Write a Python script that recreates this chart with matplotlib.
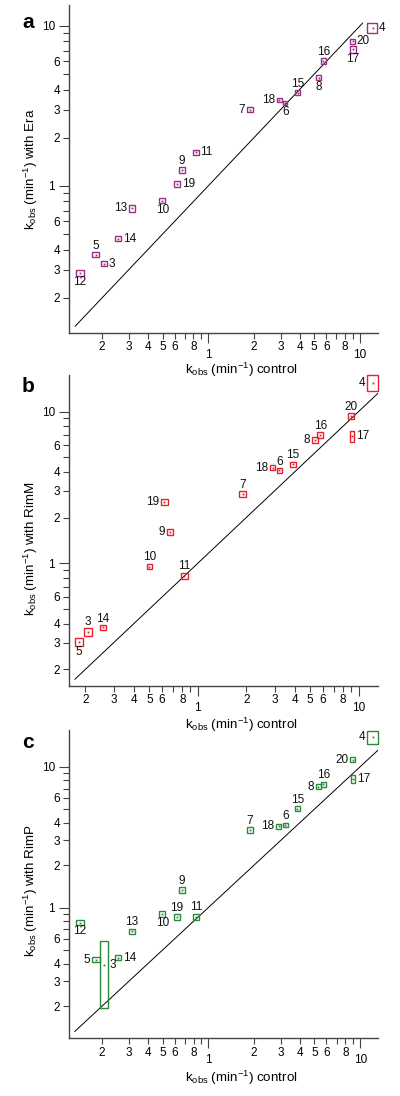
import matplotlib
matplotlib.use('Agg')
import matplotlib.pyplot as plt
from matplotlib.patches import Rectangle
from matplotlib.ticker import LogLocator, FuncFormatter
import numpy as np

plt.rcParams['font.family'] = ['Liberation Sans', 'DejaVu Sans']
plt.rcParams['mathtext.default'] = 'regular'

# --- Panel a: with Era ---
ids_a = [4, 20, 17, 16, 8, 15, 18, 6, 7, 11, 9, 19, 10, 13, 14, 5, 3, 12]
ctrl_a = [12.1, 8.95, 9.0, 5.73, 5.37, 3.88, 2.94, 3.22, 1.88, 0.83, 0.671, 0.622, 0.499, 0.316, 0.255, 0.182, 0.206, 0.143]
era_a = [9.7, 8.0, 7.15, 6.04, 4.75, 3.83, 3.45, 3.30, 3.0, 1.62, 1.26, 1.03, 0.81, 0.726, 0.469, 0.372, 0.327, 0.286]
ctrl_err_a = [0.95, 0.35, 0.35, 0.22, 0.2, 0.15, 0.11, 0.11, 0.09, 0.038, 0.03, 0.03, 0.022, 0.015, 0.012, 0.01, 0.009, 0.008]
era_err_a = [0.7, 0.3, 0.35, 0.22, 0.18, 0.12, 0.11, 0.11, 0.11, 0.06, 0.05, 0.04, 0.033, 0.035, 0.018, 0.014, 0.013, 0.011]

# --- Panel b: with RimM ---
ids_b = [4, 20, 17, 16, 8, 15, 6, 18, 7, 19, 9, 10, 11, 14, 3, 5]
ctrl_b = [12.3, 8.96, 9.08, 5.77, 5.35, 3.90, 3.22, 2.93, 1.90, 0.62, 0.67, 0.50, 0.826, 0.256, 0.207, 0.182]
rimm_b = [15.5, 9.35, 6.87, 6.98, 6.50, 4.49, 4.10, 4.27, 2.86, 2.55, 1.60, 0.95, 0.825, 0.378, 0.351, 0.304]
ctrl_err_b = [0.95, 0.4, 0.3, 0.25, 0.22, 0.15, 0.12, 0.11, 0.1, 0.033, 0.03, 0.02, 0.04, 0.011, 0.012, 0.011]
rimm_err_b = [1.85, 0.4, 0.6, 0.32, 0.28, 0.17, 0.15, 0.15, 0.13, 0.12, 0.07, 0.04, 0.04, 0.014, 0.021, 0.018]

# --- Panel c: with RimP ---
ids_c = [4, 20, 17, 16, 8, 15, 6, 18, 7, 9, 19, 11, 10, 13, 12, 5, 14, 3]
ctrl_c = [12.1, 8.9, 9.0, 5.73, 5.31, 3.86, 3.22, 2.91, 1.88, 0.671, 0.622, 0.83, 0.497, 0.313, 0.143, 0.182, 0.255, 0.206]
rimp_c = [16.3, 11.2, 8.18, 7.5, 7.21, 5.04, 3.86, 3.78, 3.56, 1.33, 0.855, 0.863, 0.902, 0.68, 0.783, 0.428, 0.442, 0.389]
ctrl_err_c = [0.95, 0.35, 0.3, 0.25, 0.22, 0.15, 0.12, 0.11, 0.09, 0.03, 0.03, 0.04, 0.02, 0.014, 0.009, 0.011, 0.012, 0.012]
rimp_err_c = [1.75, 0.45, 0.5, 0.3, 0.28, 0.2, 0.15, 0.14, 0.15, 0.06, 0.04, 0.04, 0.04, 0.03, 0.03, 0.018, 0.015, 0.194]

# label side for each point: r=right, l=left, a=above, b=below
side_a = ['r', 'r', 'b', 'a', 'b', 'a', 'l', 'b', 'l', 'r', 'a', 'r', 'b', 'l', 'r', 'a', 'r', 'b']
side_b = ['l', 'a', 'r', 'a', 'l', 'a', 'a', 'l', 'a', 'l', 'l', 'a', 'a', 'a', 'a', 'b']
side_c = ['l', 'l', 'r', 'a', 'l', 'a', 'a', 'l', 'a', 'a', 'a', 'a', 'b', 'a', 'b', 'l', 'r', 'r']

PURPLE = '#9c2f80'
RED = '#e6222e'
GREEN = '#2b8a3c'
AXIS_COLOR = '#444444'
FS = 8.5


def make_fmt(show):
    def fmt(v, pos):
        e = np.floor(np.log10(v) + 1e-9)
        d = int(round(v / 10 ** e))
        if d == 1:
            return f'{v:g}'
        return str(d) if d in show else ''
    return FuncFormatter(fmt)


def style_axes(ax, xlim, ylim):
    ax.set_facecolor('none')
    ax.set_xscale('log')
    ax.set_yscale('log')
    ax.set_xlim(xlim)
    ax.set_ylim(ylim)
    for s in ['top', 'right']:
        ax.spines[s].set_visible(False)
    for s in ['left', 'bottom']:
        ax.spines[s].set_linewidth(1.0)
        ax.spines[s].set_color(AXIS_COLOR)
    for axis in [ax.xaxis, ax.yaxis]:
        axis.set_major_locator(LogLocator(base=10, numticks=20))
        axis.set_minor_locator(LogLocator(base=10, subs=np.arange(2, 10), numticks=20))
    ax.xaxis.set_major_formatter(make_fmt((2, 3, 4, 5, 6, 8)))
    ax.xaxis.set_minor_formatter(make_fmt((2, 3, 4, 5, 6, 8)))
    ax.yaxis.set_major_formatter(make_fmt((2, 3, 4, 6)))
    ax.yaxis.set_minor_formatter(make_fmt((2, 3, 4, 6)))
    ax.tick_params(axis='x', which='major', length=7.5, width=0.8, pad=4.0, labelsize=FS, color=AXIS_COLOR)
    ax.tick_params(axis='x', which='minor', length=4.3, width=0.8, pad=1.8, labelsize=FS, color=AXIS_COLOR)
    ax.tick_params(axis='y', which='major', length=7.2, width=0.8, pad=3.0, labelsize=FS, color=AXIS_COLOR)
    ax.tick_params(axis='y', which='minor', length=4.0, width=0.8, pad=2.6, labelsize=FS, color=AXIS_COLOR)


def draw_points(ax, ids, x, y, xerr, yerr, sides, color):
    for i in range(len(ids)):
        ax.add_patch(Rectangle((x[i] - xerr[i], y[i] - yerr[i]), 2 * xerr[i], 2 * yerr[i],
                               fill=False, ec=color, lw=1.0, clip_on=False, zorder=3))
    ax.plot(x, y, ls='none', marker='s', ms=1.3, mew=0, color=color, zorder=4, clip_on=False)
    for i in range(len(ids)):
        s = sides[i]
        if s == 'r':
            xy, off, ha, va = (x[i] + xerr[i], y[i]), (1.2, 0), 'left', 'center'
        elif s == 'l':
            xy, off, ha, va = (x[i] - xerr[i], y[i]), (-1.2, 0), 'right', 'center'
        elif s == 'a':
            xy, off, ha, va = (x[i], y[i] + yerr[i]), (0, 0.3), 'center', 'bottom'
        else:
            xy, off, ha, va = (x[i], y[i] - yerr[i]), (0, -0.3), 'center', 'top'
        ax.annotate(str(ids[i]), xy=xy, xytext=off, textcoords='offset points',
                    ha=ha, va=va, fontsize=FS, color='#111111', annotation_clip=False)


fig = plt.figure(figsize=(4.0, 10.96), dpi=100)

ax_a = fig.add_axes([0.1725, 0.6964, 0.7725, 0.2990])
ax_b = fig.add_axes([0.1725, 0.3744, 0.7725, 0.2834])
ax_c = fig.add_axes([0.1725, 0.0526, 0.7725, 0.2813])

style_axes(ax_a, (0.121, 13.15), (0.121, 13.5))
style_axes(ax_b, (0.158, 13.2), (0.156, 17.4))
style_axes(ax_c, (0.121, 13.1), (0.118, 18.2))

ax_a.plot([0.133, 10.4], [0.133, 10.4], color='k', lw=0.7)
ax_b.plot([0.172, 13.2], [0.172, 13.2], color='k', lw=0.7)
ax_c.plot([0.132, 13.1], [0.132, 13.1], color='k', lw=0.7)

draw_points(ax_a, ids_a, ctrl_a, era_a, ctrl_err_a, era_err_a, side_a, PURPLE)
draw_points(ax_b, ids_b, ctrl_b, rimm_b, ctrl_err_b, rimm_err_b, side_b, RED)
draw_points(ax_c, ids_c, ctrl_c, rimp_c, ctrl_err_c, rimp_err_c, side_c, GREEN)

xlab = '$k_{obs}$ (min$^{-1}$) control'
for ax, name, ylc in [(ax_a, 'Era', 0.5), (ax_b, 'RimM', 0.44), (ax_c, 'RimP', 0.48)]:
    ax.set_xlabel(xlab, fontsize=9.6)
    ax.set_ylabel('$k_{obs}$ (min$^{-1}$) with ' + name, fontsize=9.6)
    ax.yaxis.set_label_coords(-0.095, ylc)

ax_a.xaxis.set_label_coords(0.557, -0.085)
ax_b.xaxis.set_label_coords(0.557, -0.098)
ax_c.xaxis.set_label_coords(0.557, -0.10)

fig.text(28 / 400, 1 - 22.5 / 1096, 'a', fontsize=15, fontweight='bold', ha='center', va='center')
fig.text(28 / 400, 1 - 387 / 1096, 'b', fontsize=15, fontweight='bold', ha='center', va='center')
fig.text(28 / 400, 1 - 742.5 / 1096, 'c', fontsize=15, fontweight='bold', ha='center', va='center')

fig.savefig('out.png', dpi=100)
